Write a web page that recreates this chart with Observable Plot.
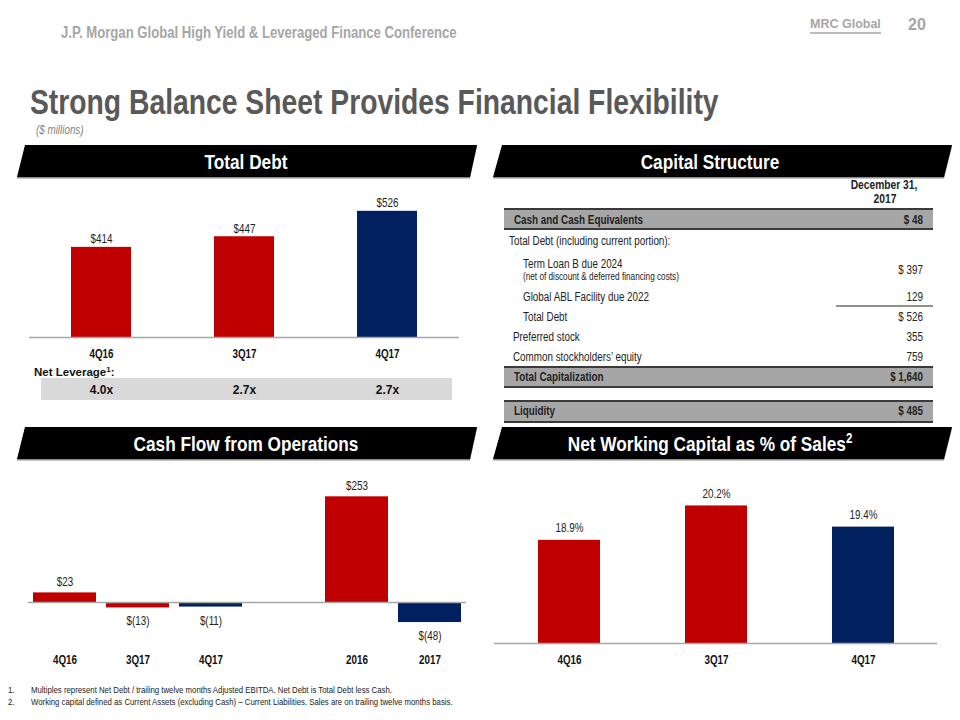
<!DOCTYPE html>
<html><head><meta charset="utf-8">
<script src="https://cdn.jsdelivr.net/npm/d3@7"></script>
<script src="https://cdn.jsdelivr.net/npm/@observablehq/plot@0.6"></script>
<style>
body{margin:0;background:#fff;}
#slide{position:relative;width:960px;height:720px;overflow:hidden;font-family:"Liberation Sans",sans-serif;color:#222;}
.t{position:absolute;white-space:nowrap;}
.abs{position:absolute;}
</style></head><body><div id="slide"></div>
<script>
// ---------- data ----------
const debtQuarters = ["4Q16", "3Q17", "4Q17"];
const debtValues = [414, 447, 526];
const netLeverage = ["4.0x", "2.7x", "2.7x"];

const cfoPeriods = ["4Q16", "3Q17", "4Q17", "2016", "2017"];
const cfoValues = [23, -13, -11, 253, -48];

const nwcQuarters = ["4Q16", "3Q17", "4Q17"];
const nwcValues = [18.9, 20.2, 19.4];

const latestPeriods = ["4Q17", "2017"];

const capItems = ["Cash and Cash Equivalents", "Total Debt (including current portion):", "Term Loan B due 2024",
  "Global ABL Facility due 2022", "Total Debt", "Preferred stock", "Common stockholders’ equity",
  "Total Capitalization", "Liquidity"];
const capAmounts = ["$ 48", "", "$ 397", "129", "$ 526", "355", "759", "$ 1,640", "$ 485"];
const capNote = "(net of discount & deferred financing costs)";
const capHeader = ["December 31,", "2017"];

const footnotes = ["Multiples represent Net Debt / trailing twelve months Adjusted EBITDA. Net Debt is Total Debt less Cash.",
  "Working capital defined as Current Assets (excluding Cash) – Current Liabilities. Sales are on trailing twelve months basis."];

// ---------- styling ----------
const FONT = '"Liberation Sans",sans-serif';
const NARROW = 0.82;
const RED = "#C00000", NAVY = "#002060", AXIS = "#A6A6A6";
const fillOf = d => latestPeriods.includes(d.period) ? NAVY : RED;
const slide = document.getElementById("slide");

function T(x, yc, html, o = {}) {
  const fs = o.size || 12;
  const sx = o.sx === undefined ? NARROW : o.sx;
  const el = document.createElement("div");
  el.className = "t";
  el.innerHTML = html;
  el.style.left = x + "px";
  el.style.top = (yc - fs / 2) + "px";
  el.style.fontSize = fs + "px";
  el.style.lineHeight = fs + "px";
  el.style.fontWeight = o.weight || "normal";
  el.style.color = o.color || "#222";
  if (o.italic) el.style.fontStyle = "italic";
  if (o.family) el.style.fontFamily = o.family;
  const a = o.anchor || "start";
  el.style.transformOrigin = a === "middle" ? "center" : a === "end" ? "right" : "left";
  const shift = a === "middle" ? "translateX(-50%) " : a === "end" ? "translateX(-100%) " : "";
  el.style.transform = shift + `scaleX(${sx})`;
  slide.appendChild(el);
  return el;
}

// ---------- decorations (banners, bands) ----------
const NS = "http://www.w3.org/2000/svg";
const deco = document.createElementNS(NS, "svg");
deco.setAttribute("width", 960); deco.setAttribute("height", 720);
deco.setAttribute("class", "abs"); deco.style.left = "0px"; deco.style.top = "0px";
slide.appendChild(deco);
function shape(tag, attrs) {
  const e = document.createElementNS(NS, tag);
  for (const k in attrs) e.setAttribute(k, attrs[k]);
  deco.appendChild(e); return e;
}
function banner(x0, x1, y0, y1, slant) {
  const pts = `${x0 + slant},${y0} ${x1},${y0} ${x1 - slant + 1},${y1} ${x0},${y1}`;
  shape("polygon", {points: pts, fill: "#8c8c8c", transform: "translate(0,1.5)"});
  shape("polygon", {points: pts, fill: "#000"});
}
banner(17, 477, 145, 177, 8);
banner(493, 952, 145, 177, 9);
banner(17, 477, 427, 459, 8);
banner(493, 952, 427, 459, 9);

// header
T(61, 33, "J.P. Morgan Global High Yield &amp; Leveraged Finance Conference", {size: 16, weight: "bold", color: "#A6A6A6"});
T(810, 24, "MRC Global", {size: 12.5, weight: "bold", color: "#A6A6A6", sx: 1});
shape("line", {x1: 810, x2: 881, y1: 33, y2: 33, stroke: "#A6A6A6", "stroke-width": 1.5});
T(908, 25, "20", {size: 16, weight: "bold", color: "#A6A6A6", sx: 1});

// title
T(30, 102, "Strong Balance Sheet Provides Financial Flexibility", {size: 34.5, weight: "bold", color: "#595959"});
T(36, 130, "($ millions)", {size: 12, italic: true, color: "#7F7F7F"});

// banner titles
T(246, 161, "Total Debt", {size: 21, weight: "bold", color: "#fff", anchor: "middle"});
T(710, 161, "Capital Structure", {size: 21, weight: "bold", color: "#fff", anchor: "middle"});
T(246, 443, "Cash Flow from Operations", {size: 21, weight: "bold", color: "#fff", anchor: "middle"});
T(710, 443, "Net Working Capital as % of Sales<sup style='font-size:14px;vertical-align:8px;line-height:0'>2</sup>", {size: 21, weight: "bold", color: "#fff", anchor: "middle"});

// net leverage box
shape("rect", {x: 41, y: 378, width: 411, height: 22, fill: "#D9D9D9"});
T(34, 373, "Net Leverage<sup style='font-size:8px;vertical-align:4px;line-height:0'>1</sup>:", {size: 11.5, weight: "bold", color: "#111", sx: 1});

// ---------- capital structure table ----------
const rowLayout = [
  {y: 220, x: 514, bold: true, band: [209, 229]},
  {y: 241, x: 509},
  {y: 264, x: 523, vy: 270},
  {y: 297, x: 523},
  {y: 317, x: 523},
  {y: 337, x: 513},
  {y: 357, x: 513},
  {y: 377, x: 514, bold: true, band: [367, 387]},
  {y: 411, x: 514, bold: true, band: [401, 422]}
];
rowLayout.forEach(r => {
  if (r.band) {
    shape("rect", {x: 504, y: r.band[0], width: 429, height: r.band[1] - r.band[0], fill: "#A6A6A6"});
    shape("line", {x1: 504, x2: 933, y1: r.band[0], y2: r.band[0], stroke: "#3a3a3a", "stroke-width": 2});
    shape("line", {x1: 504, x2: 933, y1: r.band[1], y2: r.band[1], stroke: "#3a3a3a", "stroke-width": 2});
  }
});
shape("line", {x1: 836, x2: 933, y1: 306, y2: 306, stroke: "#222", "stroke-width": 1.2});
T(884, 185, capHeader[0], {size: 12.5, weight: "bold", anchor: "middle"});
T(885, 199, capHeader[1], {size: 12.5, weight: "bold", anchor: "middle"});
capItems.forEach((label, i) => {
  const r = rowLayout[i];
  T(r.x, r.y, label, {size: 12, weight: r.bold ? "bold" : "normal"});
  if (capAmounts[i]) T(923, r.vy || r.y, capAmounts[i], {size: 12, weight: r.bold ? "bold" : "normal", anchor: "end"});
});
T(523, 277, capNote, {size: 10});

// footnotes
footnotes.forEach((f, i) => {
  T(8, 690 + i * 12, (i + 1) + ".", {size: 9.5});
  T(31, 690 + i * 12, f, {size: 9.5});
});

// ---------- charts ----------
function place(svg, left, top) {
  // narrow the chart texts the way the slide's condensed face does
  svg.querySelectorAll("text").forEach(t => {
    if (/x$/.test(t.textContent)) return; // leverage multiples use a wider face
    const x = parseFloat(t.getAttribute("x"));
    if (!isNaN(x)) t.setAttribute("x", x / NARROW);
    const tr = t.getAttribute("transform") || "";
    t.setAttribute("transform", `${tr} scale(${NARROW},1)`);
  });
  const wrap = document.createElement("div");
  wrap.className = "abs";
  wrap.style.left = left + "px"; wrap.style.top = top + "px";
  wrap.appendChild(svg);
  slide.appendChild(wrap);
}
const plotStyle = {fontFamily: FONT, fontSize: "12px", color: "#222", background: "transparent", overflow: "visible"};

// Total Debt
const debt = debtQuarters.map((period, i) => ({period, value: debtValues[i], lev: netLeverage[i]}));
const debtBase = 134;
place(Plot.plot({
  width: 480, height: 230,
  marginLeft: 29, marginRight: 21, marginTop: 7, marginBottom: 73,
  style: plotStyle,
  x: {domain: debtQuarters, paddingInner: 0.58, paddingOuter: 0.29, axis: null},
  y: {domain: [debtBase, 600], axis: null},
  color: {type: "identity"},
  marks: [
    Plot.barY(debt, {x: "period", y1: debtBase, y2: "value", fill: fillOf}),
    Plot.ruleY([debtBase], {stroke: AXIS, strokeWidth: 1.5}),
    Plot.text(debt, {x: "period", y: "value", text: d => "$" + d.value, dy: -4, lineAnchor: "bottom", fill: "#222"}),
    Plot.text(debt, {x: "period", frameAnchor: "bottom", text: "period", dy: 20, lineAnchor: "bottom", fontWeight: "bold", fill: "#111"}),
    Plot.text(debt, {x: "period", frameAnchor: "bottom", text: "lev", dy: 56, lineAnchor: "bottom", fontWeight: "bold", fill: "#111"})
  ]
}), 0, 180);

// Cash Flow from Operations
const cfo = cfoPeriods.map((period, i) => ({period, value: cfoValues[i]}));
const cfoDomain = ["4Q16", "3Q17", "4Q17", "", "2016", "2017"];
const money = v => v < 0 ? `$(${-v})` : `$${v}`;
place(Plot.plot({
  width: 480, height: 215,
  marginLeft: 28, marginRight: 14, marginTop: 10, marginBottom: 40,
  style: plotStyle,
  x: {domain: cfoDomain, paddingInner: 0.137, paddingOuter: 0.0685, axis: null},
  y: {domain: [-79, 316], axis: null},
  color: {type: "identity"},
  marks: [
    Plot.barY(cfo, {x: "period", y: "value", fill: fillOf}),
    Plot.ruleY([0], {stroke: AXIS, strokeWidth: 1.5}),
    Plot.text(cfo.filter(d => d.value >= 0), {x: "period", y: "value", text: d => money(d.value), dy: -7, lineAnchor: "bottom", fill: "#222"}),
    Plot.text(cfo.filter(d => d.value < 0), {x: "period", y: "value", text: d => money(d.value), dy: 9, lineAnchor: "top", fill: "#222"}),
    Plot.text(cfo, {x: "period", frameAnchor: "bottom", text: "period", dy: 28, lineAnchor: "bottom", fontWeight: "bold", fill: "#111"})
  ]
}), 0, 460);

// Net Working Capital
const nwc = nwcQuarters.map((period, i) => ({period, value: nwcValues[i]}));
const nwcBase = 15;
place(Plot.plot({
  width: 480, height: 215,
  marginLeft: 14, marginRight: 23, marginTop: 10, marginBottom: 32,
  style: plotStyle,
  x: {domain: nwcQuarters, paddingInner: 0.58, paddingOuter: 0.29, axis: null},
  y: {domain: [nwcBase, 21.54], axis: null},
  color: {type: "identity"},
  marks: [
    Plot.barY(nwc, {x: "period", y1: nwcBase, y2: "value", fill: fillOf}),
    Plot.ruleY([nwcBase], {stroke: AXIS, strokeWidth: 1.5}),
    Plot.text(nwc, {x: "period", y: "value", text: d => d.value.toFixed(1) + "%", dy: -8, lineAnchor: "bottom", fill: "#222"}),
    Plot.text(nwc, {x: "period", frameAnchor: "bottom", text: "period", dy: 20, lineAnchor: "bottom", fontWeight: "bold", fill: "#111"})
  ]
}), 480, 460);
</script>
</body></html>
